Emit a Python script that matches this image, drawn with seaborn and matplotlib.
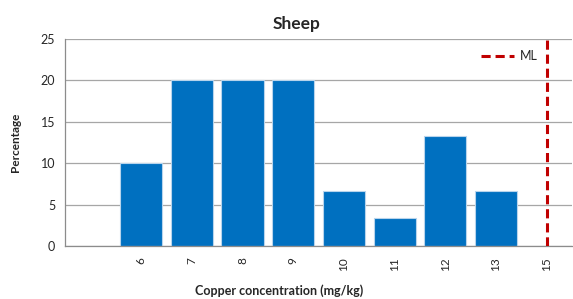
import pandas as pd
import seaborn as sns
import matplotlib.pyplot as plt
from matplotlib.lines import Line2D

categories = ["", "6", "7", "8", "9", "10", "11", "12", "13", "15"]
concentrations = ["6", "7", "8", "9", "10", "11", "12", "13"]
percentages = [10, 20, 20, 20, 6.67, 3.33, 13.33, 6.67]
ml_category = "15"

df = pd.DataFrame({"conc": concentrations, "pct": percentages})

sns.set_style("white")
plt.rcParams['font.family'] = ['Lato', 'DejaVu Sans']

fig = plt.figure(figsize=(5.73, 2.99), dpi=100)
ax = fig.add_axes([0.1134, 0.177, 0.885, 0.693])

sns.barplot(data=df, x="conc", y="pct", order=categories, color="#0070C0",
            saturation=1, width=0.83, edgecolor="#B8D4EC", linewidth=0.8, ax=ax)

ml_x = categories.index(ml_category)
ax.axvline(ml_x, color="#C00000", linestyle=(0, (3, 1.6)), linewidth=2.2, zorder=5)

ax.set_xlim(-0.5, len(categories) - 0.5)
ax.set_ylim(0, 25)
ax.set_yticks([0, 5, 10, 15, 20, 25])
ax.yaxis.grid(True, color="#A6A6A6", linewidth=0.9)
ax.set_axisbelow(True)

for s in ["top", "right"]:
    ax.spines[s].set_visible(False)
for s in ["left", "bottom"]:
    ax.spines[s].set_color("#8C8C8C")
    ax.spines[s].set_linewidth(0.9)

ax.set_xticks(range(len(categories)))
ax.set_xticklabels(categories, rotation=90, fontsize=8.5)
ax.set_xticks([i + 0.5 for i in range(len(categories) - 1)], minor=True)
ax.tick_params(axis="x", which="major", length=0, pad=8)
ax.tick_params(axis="x", which="minor", length=4, color="#8C8C8C", width=0.9)
ax.tick_params(axis="y", length=4, color="#8C8C8C", width=0.9, labelsize=9, pad=3)

ax.set_title("Sheep", fontsize=12.5, fontweight="bold", pad=7, x=0.457)
ax.set_ylabel("Percentage", fontsize=8.5, fontweight="bold", labelpad=14)
ax.set_xlabel("Copper concentration (mg/kg)", fontsize=9, fontweight="bold",
              labelpad=9.5, x=0.423)

handle = Line2D([0], [0], color="#C00000", linestyle=(0, (3, 1.6)), linewidth=2.2)
ax.legend([handle], ["ML"], loc="upper right", bbox_to_anchor=(0.955, 1.0),
          frameon=False, fontsize=9, handlelength=2.6, handletextpad=0.5)

fig.savefig("out.png", dpi=100)
